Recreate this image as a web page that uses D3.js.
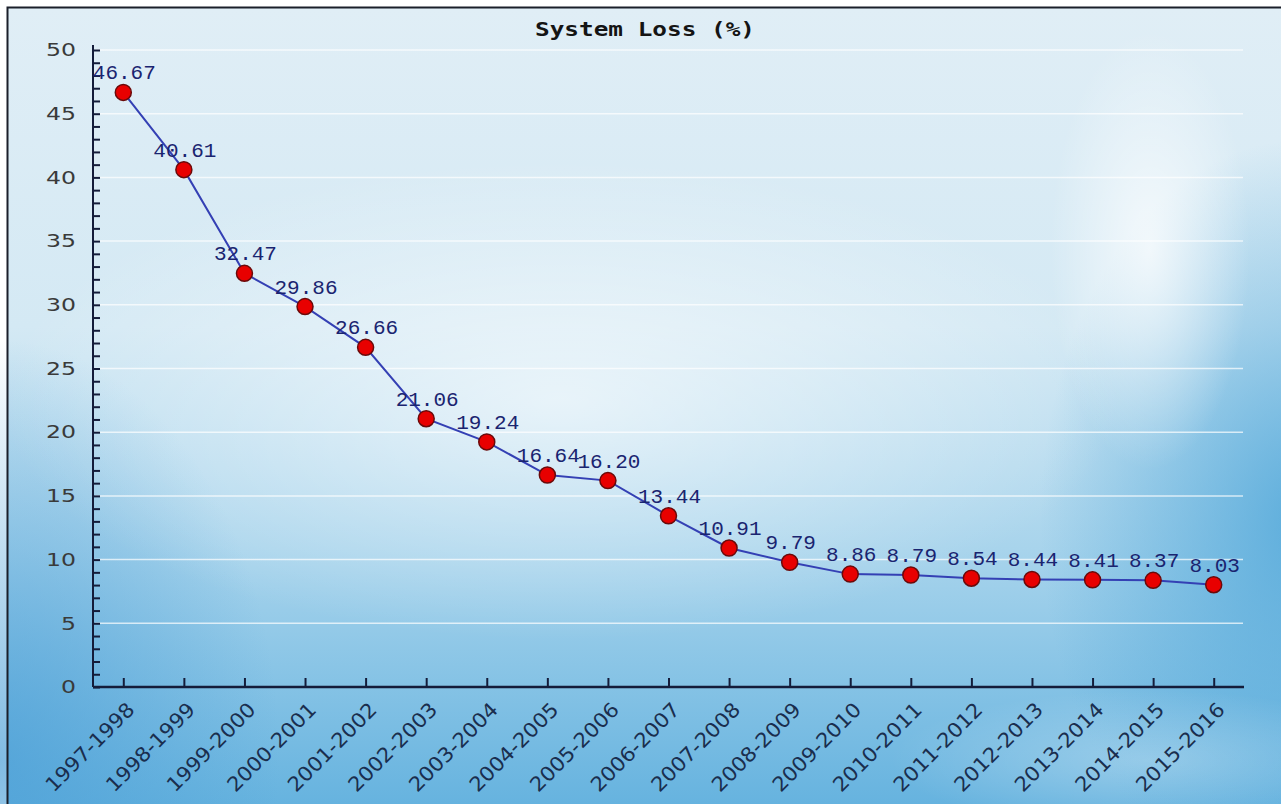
<!DOCTYPE html>
<html>
<head>
<meta charset="utf-8">
<script src="https://cdn.jsdelivr.net/npm/d3@7"></script>
<style>
  html, body { margin: 0; padding: 0; background: #fff; }
  svg { display: block; }
</style>
</head>
<body>
<div id="chart"></div>
<script>
// chart data
const years = ["1997-1998", "1998-1999", "1999-2000", "2000-2001", "2001-2002", "2002-2003",
  "2003-2004", "2004-2005", "2005-2006", "2006-2007", "2007-2008", "2008-2009", "2009-2010",
  "2010-2011", "2011-2012", "2012-2013", "2013-2014", "2014-2015", "2015-2016"];
const systemLoss = [46.67, 40.61, 32.47, 29.86, 26.66, 21.06, 19.24, 16.64, 16.20, 13.44,
  10.91, 9.79, 8.86, 8.79, 8.54, 8.44, 8.41, 8.37, 8.03];
const yTicks = [0, 5, 10, 15, 20, 25, 30, 35, 40, 45, 50];
const chartTitle = "System Loss (%)";

const W = 1281, H = 804;

const svg = d3.select("#chart").append("svg")
  .attr("width", W)
  .attr("height", H);

const defs = svg.append("defs");

// background gradients
let bg = defs.append("linearGradient").attr("id", "bgV")
  .attr("x1", 0).attr("y1", 0).attr("x2", 0).attr("y2", 1);
bg.append("stop").attr("offset", "0%").attr("stop-color", "#e0eef6");
bg.append("stop").attr("offset", "40%").attr("stop-color", "#d4e9f4");
bg.append("stop").attr("offset", "68%").attr("stop-color", "#a8d4ec");
bg.append("stop").attr("offset", "100%").attr("stop-color", "#66b3df");

function radial(id, color, op) {
  let g = defs.append("radialGradient").attr("id", id);
  g.append("stop").attr("offset", "0%").attr("stop-color", color).attr("stop-opacity", op);
  g.append("stop").attr("offset", "100%").attr("stop-color", color).attr("stop-opacity", 0);
}
radial("glow", "#ffffff", 0.8);
radial("blueL", "#4a9ed6", 0.7);
radial("blueR", "#4aa4d8", 0.8);

const back = svg.append("g");
back.append("rect").attr("x", 8).attr("y", 8).attr("width", W - 8).attr("height", H - 8)
  .attr("fill", "url(#bgV)");
back.append("ellipse").attr("cx", 0).attr("cy", 760).attr("rx", 280).attr("ry", 420)
  .attr("fill", "url(#blueL)");
back.append("ellipse").attr("cx", 1300).attr("cy", 520).attr("rx", 260).attr("ry", 380)
  .attr("fill", "url(#blueR)");
back.append("ellipse").attr("cx", 560).attr("cy", 400).attr("rx", 560).attr("ry", 240)
  .attr("fill", "url(#glow)").attr("opacity", 0.75);
back.append("ellipse").attr("cx", 1150).attr("cy", 250).attr("rx", 100).attr("ry", 220)
  .attr("fill", "url(#glow)").attr("opacity", 0.9);
back.append("ellipse").attr("cx", 1150).attr("cy", 760).attr("rx", 260).attr("ry", 70)
  .attr("fill", "url(#glow)").attr("opacity", 0.35);

// frame
svg.append("path")
  .attr("d", `M7.5,${H} L7.5,7.5 L${W},7.5`)
  .attr("fill", "none")
  .attr("stroke", "#1b1f2a")
  .attr("stroke-width", 2);

// scales
const x = d3.scalePoint()
  .domain(years)
  .range([93, 1244])
  .padding(0.5);

const y = d3.scaleLinear()
  .domain([0, 50])
  .range([687, 50]);

// gridlines
svg.append("g")
  .selectAll("line")
  .data(yTicks.filter(d => d > 0))
  .join("line")
  .attr("x1", 95)
  .attr("x2", 1243)
  .attr("y1", d => y(d))
  .attr("y2", d => y(d))
  .attr("stroke", "#ffffff")
  .attr("stroke-opacity", 0.7)
  .attr("stroke-width", 1.5);

// y axis
const yAxis = d3.axisLeft(y)
  .tickValues(d3.range(0, 51))
  .tickSizeInner(-7)
  .tickSizeOuter(0)
  .tickPadding(17)
  .tickFormat(d => d % 5 === 0 ? d : "");

const yG = svg.append("g")
  .attr("transform", "translate(93,0)")
  .call(yAxis);
yG.select(".domain").attr("stroke", "#141c3a").attr("stroke-width", 2)
  .attr("d", "M0,45V687");
yG.selectAll(".tick line").attr("stroke", "#141c3a").attr("stroke-width", 2);
yG.selectAll(".tick text")
  .attr("fill", "#3a3a3a")
  .style("font-family", "'DejaVu Sans', Verdana, sans-serif")
  .style("font-size", "18px")
  .attr("textLength", d => d % 5 === 0 ? String(d).length * 15 : null)
  .attr("lengthAdjust", "spacingAndGlyphs");

// x axis
const xAxis = d3.axisBottom(x)
  .tickSizeInner(-9)
  .tickSizeOuter(0)
  .tickPadding(0);

const xG = svg.append("g")
  .attr("transform", "translate(0,687)")
  .call(xAxis);
xG.select(".domain").attr("stroke", "#141c3a").attr("stroke-width", 2.5)
  .attr("d", "M93,0H1244");
xG.selectAll(".tick line").attr("stroke", "#141c3a").attr("stroke-width", 2);
xG.selectAll(".tick text")
  .attr("fill", "#1a2e4e")
  .attr("text-anchor", "end")
  .attr("dy", "0.35em")
  .attr("y", 0)
  .attr("transform", "translate(7,19) rotate(-45)")
  .style("font-family", "'DejaVu Sans', Verdana, sans-serif")
  .style("font-size", "20px")
  .attr("textLength", 116)
  .attr("lengthAdjust", "spacingAndGlyphs");

// line
const line = d3.line()
  .x((d, i) => x(years[i]))
  .y(d => y(d));

svg.append("path")
  .datum(systemLoss)
  .attr("d", line)
  .attr("fill", "none")
  .attr("stroke", "#3440b4")
  .attr("stroke-width", 2);

// markers
svg.append("g")
  .selectAll("circle")
  .data(systemLoss)
  .join("circle")
  .attr("cx", (d, i) => x(years[i]))
  .attr("cy", d => y(d))
  .attr("r", 8)
  .attr("fill", "#e80000")
  .attr("stroke", "#6a0a0a")
  .attr("stroke-width", 1.5);

// value labels
svg.append("g")
  .selectAll("text")
  .data(systemLoss)
  .join("text")
  .attr("x", (d, i) => x(years[i]) + 1)
  .attr("y", d => y(d) - 13)
  .attr("text-anchor", "middle")
  .attr("fill", "#1a2470")
  .style("font-family", "'Liberation Mono', 'DejaVu Sans Mono', monospace")
  .style("font-size", "21px")
  .attr("textLength", d => d.toFixed(2).length * 12.6)
  .attr("lengthAdjust", "spacingAndGlyphs")
  .text(d => d.toFixed(2));

// title
svg.append("text")
  .attr("x", 645)
  .attr("y", 36)
  .attr("text-anchor", "middle")
  .attr("fill", "#141414")
  .style("font-family", "'DejaVu Sans Mono', monospace")
  .style("font-weight", "bold")
  .style("font-size", "19px")
  .attr("textLength", 220)
  .attr("lengthAdjust", "spacingAndGlyphs")
  .text(chartTitle);
</script>
</body>
</html>
